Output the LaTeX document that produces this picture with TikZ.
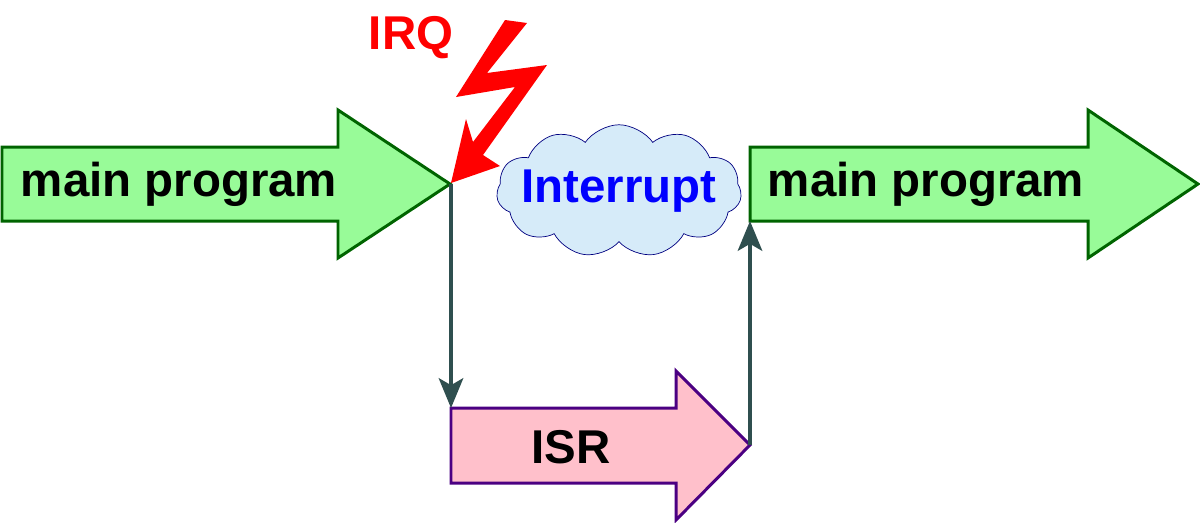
\documentclass[tikz,border=0pt]{standalone}
\usepackage{fontspec}
\setmainfont{Liberation Sans}
\usetikzlibrary{shapes.symbols, arrows.meta, positioning}
\definecolor{arrowgreen}{HTML}{98FB98}
\definecolor{edgegreen}{HTML}{006400}
\definecolor{isrpink}{HTML}{FFC0CB}
\definecolor{isrpurple}{HTML}{4B0082}
\definecolor{cloudblue}{HTML}{D6EBF9}
\definecolor{slate}{HTML}{2F4F4F}
\tikzset{
  prog/.style={draw=edgegreen, fill=arrowgreen, line width=1.7pt, line join=miter},
  isr/.style={draw=isrpurple, fill=isrpink, line width=1.7pt},
  flow/.style={draw=slate, line width=1.8pt, -{Stealth[length=17pt, width=14pt, inset=4pt]}},
  lbl/.style={font=\bfseries\fontsize{27}{31}\selectfont}
}
\begin{document}
\begin{tikzpicture}[x=0.02cm, y=-0.02cm]
	\useasboundingbox (0,0) rectangle (1200,522);
	% arrows
	\draw[prog] (2,147) -- (338,147) -- (338,110) -- (450,184) -- (338,258) -- (338,221) -- (2,221) -- cycle;
	\draw[prog] (750,147) -- (1088,147) -- (1088,110) -- (1198,184) -- (1088,258) -- (1088,221) -- (750,221) -- cycle;
	\draw[isr] (451,408) -- (676,408) -- (676,371) -- (750,445) -- (676,520) -- (676,483) -- (451,483) -- cycle;
	\coordinate (t1) at (451,184);
	\coordinate (s1) at (451,408);
	\coordinate (s2) at (750,445);
	\coordinate (m2) at (750,221);
	\node[lbl] (main1) at (179,184) {main program};
	\node[lbl] (main2) at (926,184) {main program};
	\node[lbl] (isrtext) at (571,447) {ISR};
	% interrupt
	\node[cloud, cloud puffs=11, cloud puff arc=110, aspect=1.85, draw=blue!50!black, fill=cloudblue,
	      minimum width=4.9cm, minimum height=2.65cm, inner sep=0pt] (int) at (619,191) {};
	\node[lbl, text=blue] (inttext) at (int) {Interrupt};
	\fill[red] (451,183) -- (466,119) -- (473,142) -- (515,87) -- (456,97) -- (505,20) -- (527,23)
	      -- (487,73) -- (547,65) -- (483,155) -- (500,166) -- cycle;
	\node[lbl, text=red] (irq) at (411,38) {IRQ};
	% flow
	\draw[flow] (t1) -- (s1);
	\draw[flow] (s2) -- (m2);
\end{tikzpicture}
\end{document}
